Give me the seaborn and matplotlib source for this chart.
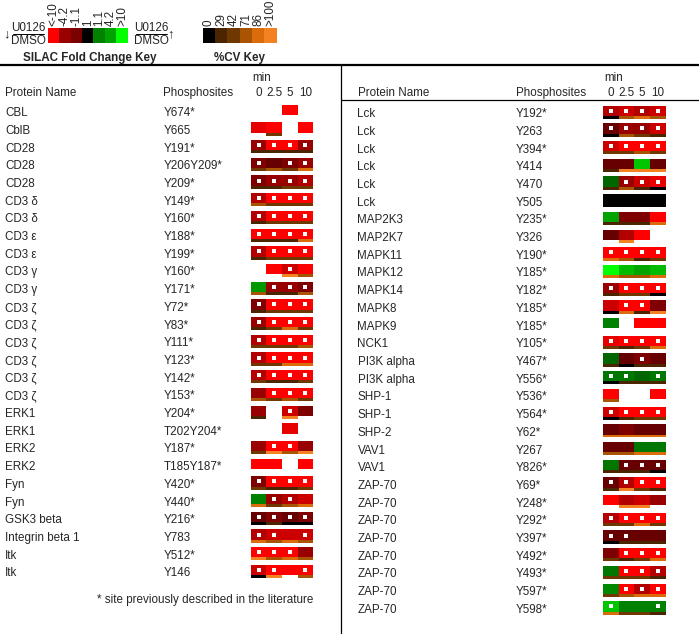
import numpy as np
import seaborn as sns
import matplotlib
matplotlib.use("Agg")
import matplotlib.pyplot as plt
from matplotlib.colors import LinearSegmentedColormap, ListedColormap

n = np.nan

# ---- data ----
time_labels = ["0", "2.5", "5", "10"]

fc_key_labels = ["<-10", "-4.2", "-1.1", "1", "1.1", "4.2", ">10"]
fc_key_levels = [-3, -1.8, -1.45, 0, 1.5, 1.9, 3]
cv_key_labels = ["0", "29", "42", "71", "86", ">100"]
cv_key_levels = [0, 1, 2, 3, 4, 5]
cv_colors = ["#000000", "#4b2500", "#6e3800", "#a85400", "#da6d0a", "#f58220"]

left_names = ["CBL", "CblB", "CD28", "CD28", "CD28", "CD3 δ", "CD3 δ", "CD3 ε", "CD3 ε",
              "CD3 γ", "CD3 γ", "CD3 ζ", "CD3 ζ", "CD3 ζ", "CD3 ζ", "CD3 ζ", "CD3 ζ",
              "ERK1", "ERK1", "ERK2", "ERK2", "Fyn", "Fyn", "GSK3 beta",
              "Integrin beta 1", "Itk", "Itk"]
left_sites = ["Y674*", "Y665", "Y191*", "Y206Y209*", "Y209*", "Y149*", "Y160*", "Y188*",
              "Y199*", "Y160*", "Y171*", "Y72*", "Y83*", "Y111*", "Y123*", "Y142*", "Y153*",
              "Y204*", "T202Y204*", "Y187*", "T185Y187*", "Y420*", "Y440*", "Y216*",
              "Y783", "Y512*", "Y146"]
# fold change level (-3 bright red ... 0 black ... 3 bright green)
left_fc = [[n, n, -3, n], [-2.7, -3, n, -3], [-1.8, -3, -3, -1.8], [-1.5, -1.2, -1.5, -1.8],
           [-1.5, -1.8, -1.8, -2.1], [-2.1, -3, -3, -3], [-2.1, -3, -3, -3], [-3, -3, -3, -3],
           [-2.1, -3, -3, -3], [n, -3, -2.4, -3], [1.8, -1.8, -1.8, -1.5], [-1.5, -3, -3, -3],
           [-1.8, -3, -3, -3], [-2.1, -3, -3, -3], [-2.1, -3, -3, -3], [-2.1, -3, -3, -3],
           [-1.8, -3, -3, -3], [-1.8, n, -2.4, -1.5], [n, n, -2.7, n], [-1.8, -3, -3, -1.8],
           [-3, -3, n, -3], [-1.5, -3, -3, -3], [1.5, -1.8, -2.1, -2.4], [-1.2, -1.5, -1.2, -1.5],
           [-2.1, -2.4, -2.4, -2.4], [-3, -3, -3, -1.8], [-2.4, -3, -3, -3]]
# %CV level (0..5 as in the key)
left_cv = [[n, n, n, n], [n, 2, n, n], [1, 1, 1, 1], [2, 3, 2, 4], [1, 1, 2, 2], [3, 2, 2, 2],
           [1, 2, 2, 2], [1, 1, 1, 4], [1, 2, 2, 2], [n, n, 5, 3], [3, 1, 1, 3], [1, 2, 2, 2],
           [1, 2, 4, 2], [2, 2, 2, 3], [2, 2, 4, 4], [2, 1, 1, 2], [3, 2, 3, 2], [1, n, 5, n],
           [n, n, n, n], [2, 5, 3, 5], [n, n, n, n], [2, 1, 1, 2], [4, 2, 3, 4], [0, 1, 0, 0],
           [4, 3, 4, 3], [5, 3, 4, 3], [0, 5, n, 3]]
left_sig = [[0, 0, 0, 0], [0, 0, 0, 0], [1, 1, 1, 1], [1, 0, 1, 1], [1, 1, 1, 1], [1, 1, 1, 1],
            [1, 1, 1, 1], [1, 1, 1, 1], [1, 1, 1, 1], [0, 0, 1, 0], [0, 1, 1, 1], [1, 1, 1, 1],
            [1, 1, 1, 1], [1, 1, 1, 1], [1, 1, 1, 1], [1, 1, 1, 1], [0, 1, 1, 1], [0, 0, 1, 0],
            [0, 0, 0, 0], [0, 1, 1, 0], [0, 0, 0, 0], [1, 1, 1, 1], [0, 1, 1, 0], [1, 1, 1, 1],
            [1, 1, 0, 1], [1, 1, 1, 0], [1, 1, 0, 1]]

right_names = ["Lck", "Lck", "Lck", "Lck", "Lck", "Lck", "MAP2K3", "MAP2K7", "MAPK11",
               "MAPK12", "MAPK14", "MAPK8", "MAPK9", "NCK1", "PI3K alpha", "PI3K alpha",
               "SHP-1", "SHP-1", "SHP-2", "VAV1", "VAV1", "ZAP-70", "ZAP-70", "ZAP-70",
               "ZAP-70", "ZAP-70", "ZAP-70", "ZAP-70", "ZAP-70"]
right_sites = ["Y192*", "Y263", "Y394*", "Y414", "Y470", "Y505", "Y235*", "Y326", "Y190*",
               "Y185*", "Y182*", "Y185*", "Y185*", "Y105*", "Y467*", "Y556*", "Y536*",
               "Y564*", "Y62*", "Y267", "Y826*", "Y69*", "Y248*", "Y292*", "Y397*", "Y492*",
               "Y493*", "Y597*", "Y598*"]
right_fc = [[-2.1, -2.4, -2.1, -2.4], [-1.2, -1.8, -1.8, -2.4], [-2.4, -3, -3, -3],
            [-1.2, -1.2, 2.3, -1.2], [1.2, -1.8, -2.4, -2.7], [0, 0, 0, 0], [1.9, -1.5, -1.5, -3],
            [-1.2, -2.1, -3, n], [-3, -3, -3, -3], [3, 2.2, 1.9, 2.2], [-1.8, -3, -3, -3],
            [-2.4, -3, -3, -1.5], [1.5, n, -3, -3], [-2.7, -3, -3, -3], [1.2, -1.2, -1.5, -1.2],
            [1.4, 1.4, 1.2, 1.4], [-3, n, n, -3], [-2.4, -3, -3, -3], [-1.2, -1.5, -1.2, -1.2],
            [-1.2, -1.2, 1.4, 1.4], [1.4, -1.2, -1.2, -1.2], [-1.2, -2.1, -3, -3],
            [-3, -2.1, -2.4, -1.8], [-2.1, -3, -3, -3], [-1.2, -1.2, -1.2, -1.2],
            [-1.5, -3, -3, -3], [1.4, -3, -3, -2.1], [1.6, -3, -2.1, -3], [2.3, 1.5, 1.5, 1.5]]
right_cv = [[0, 3, 4, 3], [0, 3, 2, 1], [2, 2, 3, 2], [1, 5, 5, 5], [1, 3, 1, 0], [0, 0, 0, 0],
            [1, 1, 1, 4], [n, 5, n, n], [4, 3, 1, 2], [4, 3, 3, 4], [1, 2, 2, 0], [0, 4, 1, 5],
            [n, n, n, n], [2, 1, 2, 4], [1, 0, 1, 1], [0, 1, 1, 1], [3, n, n, n], [0, 1, 2, 2],
            [4, 4, 4, 4], [3, 3, 4, 4], [1, 1, 1, 0], [1, 5, 2, 1], [n, 5, 5, n], [2, 2, 4, 2],
            [0, 1, 1, 1], [2, 1, 2, 4], [2, 2, 2, 1], [2, 3, 4, 4], [4, 2, 2, 1]]
right_sig = [[1, 1, 1, 1], [1, 1, 1, 1], [1, 1, 1, 1], [0, 0, 0, 0], [0, 1, 1, 1], [0, 0, 0, 0],
             [0, 0, 0, 0], [0, 0, 0, 0], [1, 1, 1, 1], [0, 0, 0, 0], [1, 1, 1, 1], [0, 1, 1, 0],
             [0, 0, 0, 0], [1, 1, 1, 1], [0, 0, 1, 0], [1, 1, 0, 1], [0, 0, 0, 0], [1, 1, 1, 1],
             [0, 0, 0, 0], [0, 0, 0, 0], [0, 1, 1, 1], [1, 1, 1, 1], [0, 0, 0, 0], [1, 1, 1, 1],
             [1, 1, 0, 0], [0, 1, 1, 1], [0, 1, 1, 1], [0, 1, 1, 1], [1, 0, 0, 1]]

# ---- styling ----
sns.set_style("white")
plt.rcParams['font.family'] = ['Liberation Sans', 'DejaVu Sans']
FS = 8.4
W, H = 699, 634
PITCH = 17.7
SUB = 12  # sub-rows per table row: 1 gap, 7 fold change, 2 cv, 2 gap

fc_cmap = LinearSegmentedColormap.from_list("fc", [(0, "#ff0000"), (0.5, "#000000"), (1, "#00ff00")])
cv_cmap = ListedColormap(cv_colors)

fig = plt.figure(figsize=(W / 100, H / 100), dpi=100)
bg = fig.add_axes([0, 0, 1, 1])
bg.set_xlim(0, W)
bg.set_ylim(H, 0)
bg.axis("off")


def px_axes(x0, y0, w, h):
    return fig.add_axes([x0 / W, 1 - (y0 + h) / H, w / W, h / H])


def draw_table(names, sites, fc, cv, sig, x0, y0, cell_x):
    nr = len(names)
    for i in range(nr):
        yb = y0 + i * PITCH + 4.2
        bg.text(x0, yb, names[i], fontsize=FS, va="baseline")
        bg.text(x0 + 158.3, yb, sites[i], fontsize=FS, va="baseline")
    bg.text(x0, 96, "Protein Name", fontsize=FS, va="baseline")
    bg.text(x0 + 158.3, 96, "Phosphosites", fontsize=FS, va="baseline")
    bg.text(cell_x + 1.5, 81, "min", fontsize=FS, va="baseline")
    for j, t in enumerate(time_labels):
        bg.text(cell_x + 7.8 + 15.65 * j, 96, t, fontsize=FS, va="baseline", ha="center")

    fc_grid = np.full((nr * SUB, 4), np.nan)
    cv_grid = np.full((nr * SUB, 4), np.nan)
    for i in range(nr):
        fc_grid[i * SUB + 1:i * SUB + 8] = fc[i]
        cv_grid[i * SUB + 8:i * SUB + 10] = cv[i]
    ax = px_axes(cell_x, y0 - PITCH / 2, 62.6, nr * PITCH)
    sns.heatmap(fc_grid, cmap=fc_cmap, vmin=-3, vmax=3, cbar=False, ax=ax,
                xticklabels=False, yticklabels=False)
    sns.heatmap(cv_grid, cmap=cv_cmap, vmin=-0.5, vmax=5.5, cbar=False, ax=ax,
                xticklabels=False, yticklabels=False)
    sig = np.array(sig)
    rr, cc = np.nonzero(sig)
    ax.scatter(cc + 0.5, rr * SUB + 4.5, s=5, marker="s", color="white",
               linewidths=0, zorder=5)
    ax.axis("off")


draw_table(left_names, left_sites, left_fc, left_cv, left_sig, 5, 112, 250.7)
draw_table(right_names, right_sites, right_fc, right_cv, right_sig, 357.5, 113, 603)

# lines
bg.plot([0, W], [65, 65], color="black", lw=1.6)
bg.plot([341, 341], [65, H], color="black", lw=0.9)
bg.plot([341, W], [99.5, 99.5], color="black", lw=0.9)

bg.text(97, 603, "* site previously described in the literature", fontsize=FS, va="baseline")

# ---- keys ----
kx = px_axes(47.7, 28, 80, 15)
sns.heatmap([fc_key_levels], cmap=fc_cmap, vmin=-3, vmax=3, cbar=False, ax=kx,
            xticklabels=False, yticklabels=False)
kx.axis("off")
for j, t in enumerate(fc_key_labels):
    bg.text(47.7 + 80 / 7 * (j + 0.5), 26.5, t, fontsize=FS, rotation=90,
            ha="center", va="bottom")

cx = px_axes(202.7, 28, 74, 15)
sns.heatmap([cv_key_levels], cmap=cv_cmap, vmin=-0.5, vmax=5.5, cbar=False, ax=cx,
            xticklabels=False, yticklabels=False)
cx.axis("off")
for j, t in enumerate(cv_key_labels):
    bg.text(202.7 + 74 / 6 * (j + 0.5), 26.5, t, fontsize=FS, rotation=90,
            ha="center", va="bottom")

# fractions next to the fold change key
for xc, arrow, ax_x in [(28.5, "↓", 7), (151, "↑", 170.5)]:
    bg.text(xc, 30.7, "U0126", fontsize=FS, ha="center", va="baseline")
    bg.text(xc, 44.3, "DMSO", fontsize=FS, ha="center", va="baseline")
    bg.plot([xc - 15.5, xc + 15.5], [33.5, 33.5], color="black", lw=0.7)
    bg.text(ax_x, 34, arrow, fontsize=FS + 1, ha="center", va="center")

bg.text(89.5, 61.5, "SILAC Fold Change Key", fontsize=FS, fontweight="bold",
        ha="center", va="baseline")
bg.text(240, 61.5, "%CV Key", fontsize=FS, fontweight="bold", ha="center", va="baseline")

fig.savefig("out.png", dpi=100)
